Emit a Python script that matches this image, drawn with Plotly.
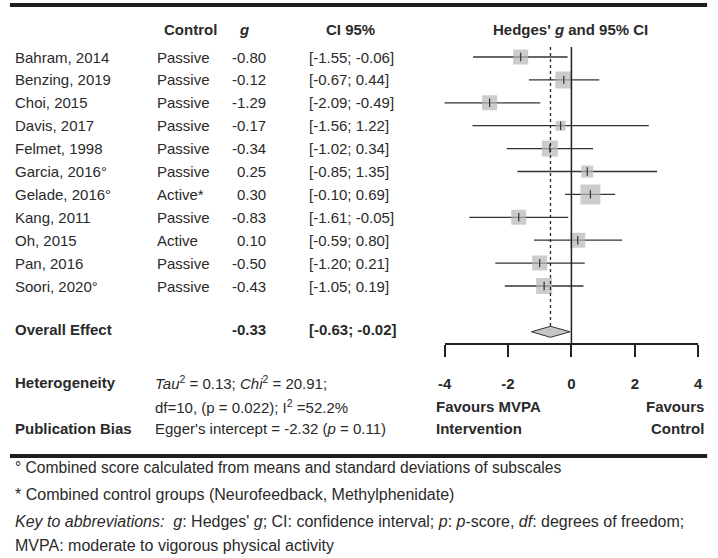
import plotly.graph_objects as go

# ---------------- data ----------------
studies = ["Bahram, 2014", "Benzing, 2019", "Choi, 2015", "Davis, 2017", "Felmet, 1998",
           "Garcia, 2016°", "Gelade, 2016°", "Kang, 2011", "Oh, 2015", "Pan, 2016", "Soori, 2020°"]
control = ["Passive", "Passive", "Passive", "Passive", "Passive", "Passive",
           "Active*", "Passive", "Active", "Passive", "Passive"]
g_vals = [-0.80, -0.12, -1.29, -0.17, -0.34, 0.25, 0.30, -0.83, 0.10, -0.50, -0.43]
ci_low = [-1.55, -0.67, -2.09, -1.56, -1.02, -0.85, -0.10, -1.61, -0.59, -1.20, -1.05]
ci_high = [-0.06, 0.44, -0.49, 1.22, 0.34, 1.35, 0.69, -0.05, 0.80, 0.21, 0.19]

overall_g = -0.33
overall_low = -0.63
overall_high = -0.02

tick_vals = [-2, -1, 0, 1, 2]
tick_text = ["-4", "-2", "0", "2", "4"]

# ---------------- style ----------------
W, H = 718, 558
FONT = "Liberation Sans"
TXT = "#2a2a2a"
FS = 15
square_sizes = [15, 17, 15, 10, 16, 12, 20, 15, 15, 15, 16]
ROW0, ROWH = 57.0, 22.9   # pixel centre of first row, row spacing
overall_row = 12


def px(x):
    return x / W


def py(y):
    return 1 - y / H


rows = list(range(len(studies)))

fig = go.Figure()

# CI lines + weighted squares
fig.add_trace(go.Scatter(
    x=g_vals, y=rows, mode="markers",
    marker=dict(symbol="square", size=square_sizes, color="#b7b7b7", line=dict(width=0)),
    error_x=dict(type="data", symmetric=False,
                 array=[h - v for h, v in zip(ci_high, g_vals)],
                 arrayminus=[v - l for v, l in zip(g_vals, ci_low)],
                 width=0, thickness=1.3, color="#333333"),
    hoverinfo="skip", showlegend=False))
# small tick inside squares
fig.add_trace(go.Scatter(
    x=g_vals, y=rows, mode="markers",
    marker=dict(symbol="line-ns", size=6, line=dict(width=1.2, color="#333333")),
    hoverinfo="skip", showlegend=False))

# overall diamond
dh = 0.24
fig.add_trace(go.Scatter(
    x=[overall_low, overall_g, overall_high, overall_g, overall_low],
    y=[overall_row, overall_row - dh, overall_row, overall_row + dh, overall_row],
    mode="lines", fill="toself", fillcolor="#c6c6c6",
    line=dict(color="#333333", width=1), hoverinfo="skip", showlegend=False))

shapes = []
# line of no effect
shapes.append(dict(type="line", xref="x", yref="paper", x0=0, x1=0, y0=py(47), y1=py(344),
                   line=dict(color="#222222", width=1.5)))
# dotted overall-effect line
shapes.append(dict(type="line", xref="x", yref="paper", x0=overall_g, x1=overall_g,
                   y0=py(47), y1=py(327), line=dict(color="#222222", width=1.3, dash="dot")))
# thick rules
for yy in (5, 456):
    shapes.append(dict(type="line", xref="paper", yref="paper", x0=px(3), x1=px(712),
                       y0=py(yy), y1=py(yy), line=dict(color="#1e1e1e", width=4)))

ann = []


def add(text, x, y, anchor="left", yref="paper", size=FS):
    ann.append(dict(text=text, x=px(x), y=(y if yref == "y" else py(y)), xref="paper", yref=yref,
                    xanchor=anchor, yanchor="middle", showarrow=False, borderpad=0,
                    font=dict(family=FONT, size=size, color=TXT)))


# headers
add("<b>Control</b>", 187, 30, "center")
add("<b><i>g</i></b>", 241, 30, "center")
add("<b>CI 95%</b>", 349, 30, "center")
add("<b>Hedges' <i>g</i> and 95% CI</b>", 573, 30, "center")

# study rows
for i, (s, c, v, lo, hi) in enumerate(zip(studies, control, g_vals, ci_low, ci_high)):
    add(s, 7, i, "left", "y")
    add(c, 152, i, "left", "y")
    add(f"{v:.2f}", 264, i, "right", "y")
    add(f"[{lo:.2f}; {hi:.2f}]", 306, i, "left", "y")

# overall
add("<b>Overall Effect</b>", 7, overall_row - 0.12, "left", "y")
add(f"<b>{overall_g:.2f}</b>", 264, overall_row - 0.12, "right", "y")
add(f"<b>[{overall_low:.2f}; {overall_high:.2f}]</b>", 306, overall_row - 0.12, "left", "y")

# heterogeneity / bias
add("<b>Heterogeneity</b>", 7, 382)
add("<i>Tau</i><sup>2</sup> = 0.13; <i>Chi</i><sup>2</sup> = 20.91;", 149, 382)
add("df=10, (p = 0.022); I<sup>2</sup> =52.2%", 149, 406)
add("<b>Publication Bias</b>", 7, 428)
add("Egger's intercept = -2.32 (<i>p</i> = 0.11)", 149, 428)

# favours labels
add("<b>Favours MVPA</b>", 435, 406)
add("<b>Intervention</b>", 435, 428)
add("<b>Favours</b>", 710, 406, "right")
add("<b>Control</b>", 710, 428, "right")

# footnotes
FN = 16
add("° Combined score calculated from means and standard deviations of subscales", 7, 467, size=FN - 0.4)
add("* Combined control groups (Neurofeedback, Methylphenidate)", 7, 494, size=FN)
add("<i>Key to abbreviations:</i>&nbsp;&nbsp;<i>g</i>: Hedges' <i>g</i>; CI: confidence interval; <i>p</i>: <i>p</i>-score, <i>df</i>: degrees of freedom;",
    7, 521, size=FN)
add("MVPA: moderate to vigorous physical activity", 7, 545, size=FN)

y_top = -ROW0 / ROWH
y_bot = (H - ROW0) / ROWH

fig.update_layout(
    width=W, height=H, margin=dict(l=0, r=0, t=0, b=0),
    paper_bgcolor="white", plot_bgcolor="white",
    xaxis=dict(domain=[px(445), px(703)], range=[-2, 2], anchor="free", position=py(344),
               showline=True, linecolor="#222222", linewidth=1.5,
               ticks="outside", ticklen=12, tickwidth=1.5, tickcolor="#222222",
               tickvals=tick_vals, ticktext=tick_text, ticklabelstandoff=14,
               tickfont=dict(family=FONT, size=FS, color=TXT, weight="bold"),
               showgrid=False, zeroline=False, fixedrange=True),
    yaxis=dict(domain=[0, 1], range=[y_bot, y_top], visible=False, showgrid=False,
               zeroline=False, fixedrange=True),
    shapes=shapes, annotations=ann, showlegend=False,
)

fig.write_html("out.html", config={"displayModeBar": False},
               post_script="document.body.style.margin='0';document.body.style.padding='0';")
